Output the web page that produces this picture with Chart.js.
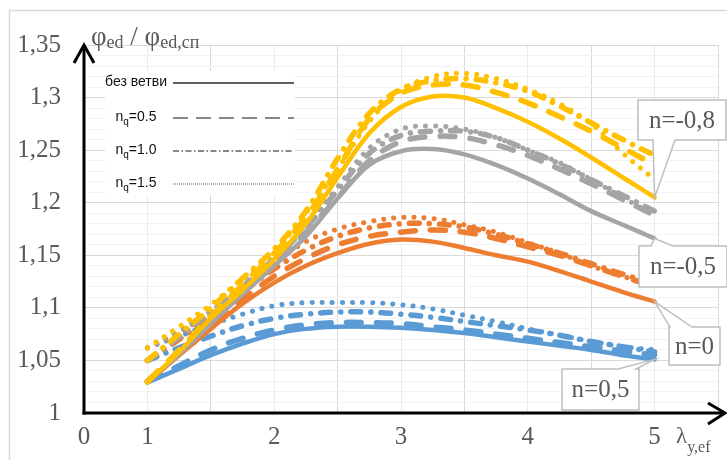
<!DOCTYPE html>
<html><head><meta charset="utf-8">
<script src="https://cdn.jsdelivr.net/npm/chart.js@4"></script>
<style>html,body{margin:0;padding:0;background:#fff;overflow:hidden}</style>
</head><body>
<canvas id="c" width="727" height="460" style="display:block;width:727px;height:460px"></canvas>
<script>
// ---- data ----
const lambdaValues = [1,1.25,1.5,1.75,2,2.25,2.5,2.75,3,3.25,3.5,3.75,4,4.25,4.5,4.75,5];
const xTickLabels = ['0','1','2','3','4','5'];
const groupNames = ['n=-0,8','n=-0,5','n=0','n=0,5'];
const styleNames = ['без ветви','nq=0.5','nq=1.0','nq=1.5'];

// n = -0,8 (yellow)
const y08_none = [1.029,1.058,1.090,1.117,1.146,1.180,1.224,1.266,1.291,1.301,1.300,1.290,1.277,1.261,1.243,1.224,1.205];
const y08_q05  = [1.030,1.060,1.092,1.122,1.152,1.186,1.232,1.280,1.304,1.312,1.312,1.305,1.295,1.282,1.268,1.252,1.236];
const y08_q10  = [1.050,1.075,1.100,1.128,1.156,1.192,1.242,1.285,1.308,1.316,1.318,1.314,1.306,1.292,1.276,1.260,1.245];
const y08_q15  = [1.062,1.082,1.103,1.128,1.153,1.190,1.232,1.277,1.307,1.320,1.323,1.318,1.308,1.294,1.275,1.247,1.222];
// n = -0,5 (gray)
const y05m_none = [1.029,1.056,1.085,1.113,1.140,1.168,1.204,1.236,1.249,1.251,1.246,1.236,1.223,1.208,1.192,1.179,1.166];
const y05m_q05  = [1.030,1.058,1.087,1.115,1.143,1.172,1.205,1.240,1.258,1.263,1.262,1.255,1.245,1.232,1.218,1.203,1.188];
const y05m_q10  = [1.050,1.072,1.096,1.120,1.147,1.176,1.212,1.247,1.264,1.268,1.268,1.262,1.250,1.237,1.222,1.207,1.192];
const y05m_q15  = [1.062,1.078,1.097,1.122,1.148,1.178,1.215,1.252,1.270,1.273,1.270,1.262,1.250,1.238,1.222,1.205,1.188];
// n = 0 (orange)
const y0_none = [1.029,1.055,1.080,1.104,1.124,1.140,1.152,1.161,1.165,1.163,1.157,1.150,1.144,1.135,1.125,1.115,1.106];
const y0_q05  = [1.030,1.057,1.083,1.108,1.130,1.147,1.160,1.168,1.172,1.174,1.172,1.166,1.158,1.150,1.140,1.130,1.120];
const y0_q10  = [1.050,1.070,1.092,1.115,1.137,1.155,1.168,1.176,1.180,1.180,1.177,1.170,1.161,1.152,1.142,1.132,1.123];
const y0_q15  = [1.062,1.077,1.095,1.118,1.142,1.163,1.175,1.182,1.186,1.185,1.179,1.172,1.162,1.152,1.140,1.130,1.120];
// n = 0,5 (blue)
const y05_none = [1.029,1.042,1.055,1.066,1.075,1.080,1.082,1.082,1.081,1.079,1.076,1.072,1.068,1.064,1.060,1.055,1.051];
const y05_q05  = [1.030,1.045,1.060,1.071,1.079,1.084,1.086,1.086,1.085,1.082,1.079,1.075,1.071,1.067,1.063,1.059,1.055];
const y05_q10  = [1.050,1.062,1.073,1.083,1.090,1.094,1.096,1.096,1.094,1.091,1.087,1.083,1.079,1.074,1.068,1.063,1.058];
const y05_q15  = [1.062,1.073,1.084,1.094,1.102,1.105,1.105,1.105,1.103,1.099,1.093,1.087,1.080,1.074,1.068,1.063,1.060];

// ---- styling ----
const colors = ['#FFC000','#A5A5A5','#ED7D31','#5B9BD5'];
const seriesByGroup = [
  [y08_none,y08_q05,y08_q10,y08_q15],
  [y05m_none,y05m_q05,y05m_q10,y05m_q15],
  [y0_none,y0_q05,y0_q10,y0_q15],
  [y05_none,y05_q05,y05_q10,y05_q15]
];
const lineStyles = [
  {borderWidth:4.5, borderDash:[], borderCapStyle:'round'},
  {borderWidth:5.5, borderDash:[15,15], borderCapStyle:'round'},
  {borderWidth:5.5, borderDash:[10,10,0.1,10], borderCapStyle:'round'},
  {borderWidth:5, borderDash:[0.1,10], borderCapStyle:'round'}
];
const toPts = arr => arr.map((v,i)=>({x:lambdaValues[i], y:v}));
const datasets = [];
seriesByGroup.forEach((grp,gi)=>{
  grp.forEach((arr,si)=>{
    datasets.push(Object.assign({
      label: groupNames[gi]+' '+styleNames[si],
      data: toPts(arr),
      borderColor: colors[gi],
      backgroundColor: colors[gi],
      fill:false, pointRadius:0, tension:0.35, borderJoinStyle:'round'
    }, lineStyles[si]));
  });
});

const GRAY = '#595959';
const SERIF = '"Liberation Serif","Times New Roman",serif';

function drawCallout(ctx, b, wedge, tip, text){
  ctx.save();
  ctx.beginPath();
  const x0=b.x, y0=b.y, x1=b.x+b.w, y1=b.y+b.h;
  if (wedge.side==='top'){
    ctx.moveTo(x0,y0); ctx.lineTo(wedge.a,y0); ctx.lineTo(tip.x,tip.y); ctx.lineTo(wedge.b,y0);
    ctx.lineTo(x1,y0); ctx.lineTo(x1,y1); ctx.lineTo(x0,y1); ctx.closePath();
  } else {
    ctx.moveTo(x0,y0); ctx.lineTo(x1,y0); ctx.lineTo(x1,y1); ctx.lineTo(wedge.b,y1);
    ctx.lineTo(tip.x,tip.y); ctx.lineTo(wedge.a,y1); ctx.lineTo(x0,y1); ctx.closePath();
  }
  ctx.fillStyle='#fff'; ctx.fill();
  ctx.strokeStyle='#BFBFBF'; ctx.lineWidth=1.5; ctx.stroke();
  ctx.fillStyle=GRAY; ctx.font='25px '+SERIF; ctx.textAlign='center'; ctx.textBaseline='middle';
  ctx.fillText(text, x0+b.w/2, y0+b.h/2+1);
  ctx.restore();
}

function drawRich(ctx, x, parts){
  ctx.textAlign='left'; ctx.textBaseline='alphabetic';
  parts.forEach(p=>{
    ctx.font = p[1]+'px '+SERIF;
    ctx.fillText(p[0], x, p[2]);
    x += ctx.measureText(p[0]).width;
  });
}

const decor = {
  id:'decor',
  beforeDraw(chart){
    const ctx=chart.ctx;
    ctx.save();
    ctx.fillStyle='#fff'; ctx.fillRect(0,0,chart.width,chart.height);
    ctx.strokeStyle='#D9D9D9'; ctx.lineWidth=1.5;
    ctx.beginPath(); ctx.moveTo(9.5,chart.height); ctx.lineTo(9.5,10.5); ctx.lineTo(chart.width,10.5); ctx.stroke();
    ctx.restore();
  },
  afterDraw(chart){
    const ctx=chart.ctx, a=chart.chartArea, xs=chart.scales.x, ys=chart.scales.y;
    ctx.save();
    // axes with arrows
    ctx.strokeStyle='#000'; ctx.lineWidth=3; ctx.lineCap='butt'; ctx.lineJoin='miter';
    ctx.beginPath(); ctx.moveTo(a.left, a.bottom+1.5); ctx.lineTo(a.left, a.top+1); ctx.stroke();
    ctx.beginPath(); ctx.moveTo(a.left-10, a.top+18); ctx.lineTo(a.left, a.top); ctx.lineTo(a.left+10, a.top+18); ctx.stroke();
    ctx.beginPath(); ctx.moveTo(a.left-1.5, a.bottom); ctx.lineTo(723, a.bottom); ctx.stroke();
    ctx.beginPath(); ctx.moveTo(708, a.bottom-10); ctx.lineTo(725, a.bottom); ctx.lineTo(708, a.bottom+11); ctx.stroke();

    // axis titles
    ctx.fillStyle=GRAY;
    drawRich(ctx, 91, [['φ',27,45],['ed',18,48],[' / ',27,45],['φ',27,45],['ed,сп',18,48]]);
    drawRich(ctx, 676, [['λ',23,443],['y,ef',16,452]]);

    // legend box
    ctx.fillStyle='#fff'; ctx.fillRect(105,71,190,124);
    const lf='"Liberation Sans Narrow","Arial Narrow","Liberation Sans",Arial,sans-serif';
    const rows=[
      {y:82, dash:[], w:2.2},
      {y:117, dash:[15,8], w:1.6},
      {y:150, dash:[6,2.5,1.5,2.5], w:1.5},
      {y:183, dash:[1,1], w:1.2}
    ];
    ctx.fillStyle='#111';
    ctx.textBaseline='middle';
    rows.forEach((r,i)=>{
      ctx.strokeStyle='#606060'; ctx.lineWidth=r.w; ctx.setLineDash(r.dash);
      ctx.beginPath(); ctx.moveTo(173, r.y+1); ctx.lineTo(294, r.y+1); ctx.stroke();
      ctx.setLineDash([]);
      if(i===0){
        ctx.font='14px '+lf; ctx.textAlign='center';
        ctx.fillText(styleNames[0], 136, r.y);
      } else {
        const rest = styleNames[i].slice(2);
        ctx.font='14px '+lf; const wn=ctx.measureText('n').width, wr=ctx.measureText(rest).width;
        ctx.font='10px '+lf; const wq=ctx.measureText('q').width;
        let x = 136 - (wn+wq+wr)/2;
        ctx.textAlign='left';
        ctx.font='14px '+lf; ctx.fillText('n', x, r.y); x+=wn;
        ctx.font='10px '+lf; ctx.fillText('q', x, r.y+5); x+=wq;
        ctx.font='14px '+lf; ctx.fillText(rest, x, r.y);
      }
    });

    // callouts pointing to the ends of the solid curves
    const last = lambdaValues.length-1;
    const tipOf = arr => ({x: xs.getPixelForValue(lambdaValues[last]), y: ys.getPixelForValue(arr[last])});
    drawCallout(ctx, {x:638,y:100,w:88,h:40}, {side:'bottom',a:653,b:675}, tipOf(y08_none), groupNames[0]);
    drawCallout(ctx, {x:639,y:246,w:88,h:41}, {side:'top',a:651,b:673}, tipOf(y05m_none), groupNames[1]);
    drawCallout(ctx, {x:669,y:327,w:51,h:38}, {side:'top',a:670,b:692}, tipOf(y0_none), groupNames[2]);
    drawCallout(ctx, {x:562,y:369,w:77,h:41}, {side:'top',a:618,b:636}, tipOf(y05_none), groupNames[3]);
    ctx.restore();
  }
};

const isMajorY = v => Math.abs(v*100 - Math.round(v*20)*5) < 1e-6;

new Chart(document.getElementById('c'), {
  type:'line',
  data:{datasets},
  options:{
    responsive:false, animation:false, devicePixelRatio:1,
    layout:{padding:{top:45,left:0,right:0,bottom:0}},
    plugins:{legend:{display:false}, tooltip:{enabled:false}},
    scales:{
      x:{type:'linear', min:0.5, max:5.5,
        afterFit(s){ s.height=47; },
        ticks:{stepSize:0.5, autoSkip:false, maxRotation:0, padding:9, color:GRAY,
          font:{family:'"Liberation Serif","Times New Roman",serif', size:25},
          callback(v){ if (Math.abs(v-0.5)<1e-9) return xTickLabels[0];
                       if (Math.abs(v-Math.round(v))<1e-9 && v>=1 && v<=5) return xTickLabels[Math.round(v)];
                       return ''; }},
        grid:{drawTicks:false, lineWidth:1,
          color(c){ const v=c.tick.value; return Math.abs(v-Math.round(v))<1e-9 ? '#EBEBEB' : '#D9D9D9'; }},
        border:{display:false}
      },
      y:{min:1, max:1.35,
        afterFit(s){ s.width=84; },
        ticks:{stepSize:0.01, autoSkip:false, maxTicksLimit:100, padding:23, color:GRAY,
          font:{family:'"Liberation Serif","Times New Roman",serif', size:25},
          callback(v){ return isMajorY(v) ? String(Math.round(v*100)/100).replace('.',',') : ''; }},
        grid:{drawTicks:false, lineWidth:1,
          color(c){ return isMajorY(c.tick.value) ? '#D9D9D9' : '#F2F2F2'; }},
        border:{display:false}
      }
    }
  },
  plugins:[decor]
});
</script>
</body></html>
